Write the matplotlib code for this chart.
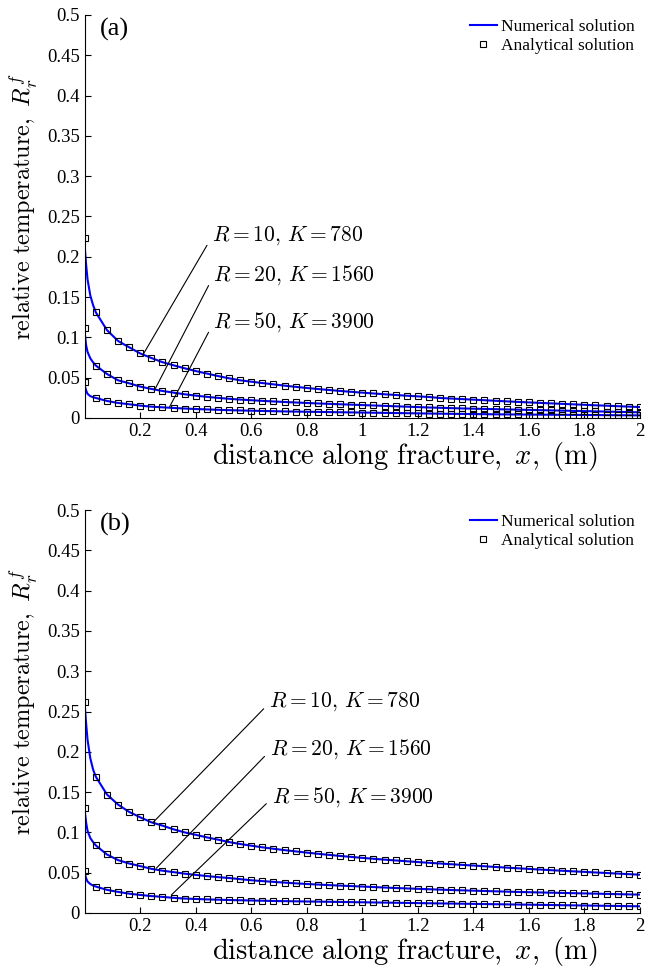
import matplotlib
matplotlib.use("Agg")
import matplotlib.pyplot as plt
import numpy as np

plt.rcParams['mathtext.fontset'] = 'cm'
plt.rcParams['font.family'] = ['Liberation Serif', 'DejaVu Serif']

# marker positions along the fracture (m)
x_mark = np.arange(51) * 0.04
# extra points of the numerical curve close to the inlet
x_near = [0.0, 0.005, 0.01, 0.02, 0.03]

# (a)
a_r10 = [0.223, 0.131, 0.109, 0.0955, 0.0877, 0.0800, 0.0744, 0.0692, 0.0653, 0.0616,
         0.0582, 0.0551, 0.0520, 0.0492, 0.0467, 0.0450, 0.0433, 0.0417, 0.0401, 0.0386,
         0.0372, 0.0359, 0.0347, 0.0335, 0.0324, 0.0314, 0.0304, 0.0294, 0.0285, 0.0276,
         0.0268, 0.0260, 0.0248, 0.0241, 0.0234, 0.0227, 0.0220, 0.0213, 0.0206, 0.0199,
         0.0193, 0.0187, 0.0181, 0.0175, 0.0169, 0.0163, 0.0157, 0.0152, 0.0146, 0.0141, 0.0135]
a_r20 = [0.111, 0.065, 0.0546, 0.0467, 0.0430, 0.0389, 0.0360, 0.0335, 0.0314, 0.0294,
         0.0277, 0.0262, 0.0249, 0.0238, 0.0228, 0.0220, 0.0212, 0.0205, 0.0198, 0.0192,
         0.0186, 0.0180, 0.0175, 0.0170, 0.0165, 0.0160, 0.0155, 0.0150, 0.0145, 0.0140,
         0.0135, 0.0130, 0.0126, 0.0122, 0.0118, 0.0115, 0.0112, 0.0109, 0.0106, 0.0103,
         0.0100, 0.0097, 0.0094, 0.0091, 0.0088, 0.0085, 0.0082, 0.0079, 0.0076, 0.0073, 0.0070]
a_r50 = [0.0443, 0.0248, 0.0211, 0.0186, 0.0170, 0.0153, 0.0140, 0.0132, 0.0124, 0.0117,
         0.0111, 0.0106, 0.0101, 0.0097, 0.0093, 0.0090, 0.0087, 0.0084, 0.0081, 0.0079,
         0.0077, 0.0075, 0.0073, 0.0071, 0.0069, 0.0067, 0.0065, 0.0063, 0.0061, 0.0059,
         0.0057, 0.0055, 0.0053, 0.0051, 0.0050, 0.0048, 0.0047, 0.0045, 0.0044, 0.0043,
         0.0042, 0.0041, 0.0040, 0.0039, 0.0038, 0.0037, 0.0036, 0.0035, 0.0034, 0.0033, 0.0032]
a_near = [[0.212, 0.190, 0.172, 0.152, 0.140],
          [0.105, 0.090, 0.082, 0.074, 0.069],
          [0.040, 0.034, 0.030, 0.027, 0.0258]]

# (b)
b_r10 = [0.262, 0.169, 0.147, 0.1345, 0.1254, 0.1187, 0.1125, 0.1084, 0.1038, 0.1000,
         0.0970, 0.0938, 0.0910, 0.0880, 0.0856, 0.0835, 0.0815, 0.0797, 0.0780, 0.0764,
         0.0749, 0.0735, 0.0721, 0.0708, 0.0696, 0.0684, 0.0673, 0.0662, 0.0652, 0.0642,
         0.0632, 0.0623, 0.0614, 0.0605, 0.0597, 0.0589, 0.0580, 0.0571, 0.0563, 0.0555,
         0.0547, 0.0539, 0.0531, 0.0524, 0.0517, 0.0510, 0.0503, 0.0496, 0.0489, 0.0482, 0.0475]
b_r20 = [0.130, 0.0838, 0.0726, 0.0656, 0.0614, 0.0582, 0.0548, 0.0525, 0.0507, 0.0488,
         0.0473, 0.0458, 0.0445, 0.0434, 0.0420, 0.0406, 0.0396, 0.0386, 0.0377, 0.0368,
         0.0360, 0.0353, 0.0346, 0.0340, 0.0334, 0.0328, 0.0322, 0.0316, 0.0310, 0.0305,
         0.0300, 0.0295, 0.0290, 0.0285, 0.0281, 0.0277, 0.0273, 0.0269, 0.0265, 0.0261,
         0.0258, 0.0255, 0.0252, 0.0249, 0.0246, 0.0243, 0.0240, 0.0237, 0.0234, 0.0231, 0.0228]
b_r50 = [0.0515, 0.0328, 0.0287, 0.0262, 0.0240, 0.0224, 0.0210, 0.0200, 0.0188, 0.0179,
         0.0174, 0.0169, 0.0165, 0.0161, 0.0158, 0.0155, 0.0152, 0.0149, 0.0147, 0.0145,
         0.0143, 0.0141, 0.0139, 0.0137, 0.0135, 0.0133, 0.0131, 0.0129, 0.0127, 0.0125,
         0.0123, 0.0121, 0.0119, 0.0117, 0.0115, 0.0113, 0.0111, 0.0109, 0.0107, 0.0105,
         0.0103, 0.0101, 0.0099, 0.0097, 0.0095, 0.0093, 0.0091, 0.0089, 0.0087, 0.0085, 0.0083]
b_near = [[0.257, 0.235, 0.215, 0.192, 0.178],
          [0.127, 0.112, 0.102, 0.093, 0.088],
          [0.049, 0.043, 0.039, 0.036, 0.034]]

labels = [r'$R=10,\,K=780$', r'$R=20,\,K=1560$', r'$R=50,\,K=3900$']
# (curve point, text point) for each label
a_ann = [((0.209, 0.078), (0.458, 0.226)),
         ((0.252, 0.035), (0.463, 0.177)),
         ((0.306, 0.014), (0.463, 0.119))]
b_ann = [((0.245, 0.112), (0.665, 0.262)),
         ((0.258, 0.0557), (0.668, 0.203)),
         ((0.312, 0.0224), (0.675, 0.144))]

yticks = np.arange(0, 0.501, 0.05)
xticks = np.arange(0.2, 2.01, 0.2)


def panel(ax, curves, near, ann, tag):
    for i, c in enumerate(curves):
        xl = list(x_near) + list(x_mark[1:])
        yl = list(near[i]) + list(c[1:])
        ax.plot(xl, yl, color='#0000ff', lw=1.5,
                label='Numerical solution' if i == 0 else None, zorder=2)
        ax.plot(x_mark, c, ls='none', marker='s', ms=5, mfc='none', mec='black',
                mew=0.8, label='Analytical solution' if i == 0 else None, zorder=3)
    for lab, (p, t) in zip(labels, ann):
        ax.annotate(lab, xy=p, xytext=t, fontsize=15.5, ha='left', va='center',
                    arrowprops=dict(arrowstyle='-', color='black', lw=0.8,
                                    shrinkA=3, shrinkB=0, relpos=(0, 0.45)))
    ax.set_xlim(0, 2)
    ax.set_ylim(0, 0.5)
    ax.set_xticks(xticks)
    ax.set_xticklabels(['%g' % round(v, 1) for v in xticks])
    ax.set_yticks(yticks)
    ax.set_yticklabels(['%g' % round(v, 2) for v in yticks])
    ax.tick_params(direction='in', length=4, labelsize=13.5)
    ax.spines['top'].set_visible(False)
    ax.spines['right'].set_visible(False)
    ax.set_xlabel(r'$\mathrm{distance\ along\ fracture,}\ x,\ \mathrm{(m)}$', fontsize=20.5)
    ax.xaxis.set_label_coords(0.577, -0.055)
    ax.set_ylabel(r'$\mathrm{relative\ temperature,}\ R_r^f$', fontsize=17.5)
    ax.yaxis.set_label_coords(-0.08, 0.525)
    ax.text(0.027, 0.965, tag, transform=ax.transAxes, fontsize=19, va='center')
    ax.legend(loc='upper right', bbox_to_anchor=(1.003, 1.008), frameon=False, fontsize=12.5,
              handlelength=1.5, handletextpad=0.25, labelspacing=0.15, borderaxespad=0)


fig = plt.figure(figsize=(6.47, 9.72), dpi=100)
ax1 = fig.add_axes([0.131, 0.570, 0.858, 0.4146])
ax2 = fig.add_axes([0.131, 0.0607, 0.858, 0.4146])

panel(ax1, [a_r10, a_r20, a_r50], a_near, a_ann, '(a)')
panel(ax2, [b_r10, b_r20, b_r50], b_near, b_ann, '(b)')

fig.savefig('out.png', dpi=100)
